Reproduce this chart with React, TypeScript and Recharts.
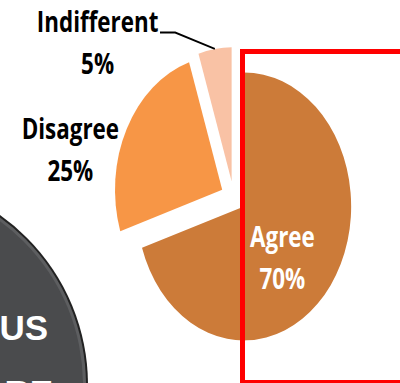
import { PieChart, Pie, Cell } from "recharts";

const categories = ["Agree", "Disagree", "Indifferent"];
const shares = [70, 25, 5];
const sliceColors = ["#CC7B39", "#F79646", "#F9C2A5"];

const data = categories.map((name, i) => ({ name, value: shares[i] }));

// chart is drawn wide and squashed horizontally, like the source picture
const W = 500;
const H = 383;
const SQUASH = 0.8;
const CX = 292;
const CY = 197;
const R = 134;
const EXPLODE = 16;
const FONT = "'Open Sans', sans-serif";

const total = shares.reduce((a, b) => a + b, 0);

function explodeOffset(i: number) {
  const before = shares.slice(0, i).reduce((a, b) => a + b, 0);
  const mid = ((before + shares[i] / 2) / total) * 2 * Math.PI;
  return { dx: EXPLODE * Math.sin(mid), dy: -EXPLODE * Math.cos(mid) };
}

const labelSpots = [
  { x: 353, y: 247, fill: "#fff", leader: false },
  { x: 88, y: 139, fill: "#000", leader: false },
  { x: 122, y: 32.5, fill: "#000", leader: true },
];

const makeLabel = (slice: number) => (props: any) => {
  if (props.index !== slice) return null;
  const spot = labelSpots[slice];
  const rad = Math.PI / 180;
  const ex = props.cx + props.outerRadius * Math.cos(-props.midAngle * rad);
  const ey = props.cy + props.outerRadius * Math.sin(-props.midAngle * rad);
  return (
    <g>
      {spot.leader && (
        <polyline
          points={`${spot.x + 78},${spot.y} ${spot.x + 97},${spot.y} ${ex},${ey}`}
          fill="none"
          stroke="#000"
          strokeWidth={2}
        />
      )}
      <text x={spot.x} y={spot.y} textAnchor="middle" fill={spot.fill} fontFamily={FONT} fontWeight={700} fontSize={28}>
        <tspan x={spot.x}>{props.name}</tspan>
        <tspan x={spot.x} dy={42}>{`${props.value}%`}</tspan>
      </text>
    </g>
  );
};

export default function App() {
  return (
    <div style={{ position: "fixed", left: 0, top: 0, width: 400, height: 383, overflow: "hidden", background: "#fff" }}>
      <div style={{ position: "absolute", left: 0, top: 0, width: W, height: H, transform: `scaleX(${SQUASH})`, transformOrigin: "0 0" }}>
        <PieChart width={W} height={H} margin={{ top: 0, right: 0, bottom: 0, left: 0 }}>
          {categories.map((cat, s) => {
            const { dx, dy } = explodeOffset(s);
            return (
              <Pie
                key={cat}
                data={data}
                dataKey="value"
                nameKey="name"
                cx={CX + dx}
                cy={CY + dy}
                outerRadius={R}
                startAngle={90}
                endAngle={-270}
                label={makeLabel(s)}
                labelLine={false}
                isAnimationActive={false}
              >
                {data.map((d, i) => (
                  <Cell key={d.name} fill={i === s ? sliceColors[i] : "transparent"} stroke="none" />
                ))}
              </Pie>
            );
          })}
        </PieChart>
      </div>
      <svg width={400} height={383} style={{ position: "absolute", left: 0, top: 0 }}>
        <circle cx={-120} cy={385} r={208} fill="#222" />
        <circle cx={-120} cy={385} r={206} fill="#5d5e60" />
        <circle cx={-120} cy={385} r={203} fill="#4a4b4d" />
        <text x={48} y={340} textAnchor="end" fill="#fff" fontFamily="'Liberation Sans', Arial, sans-serif" fontWeight={700} fontSize={35}>
          US
        </text>
        <text x={53} y={405} textAnchor="end" fill="#fff" fontFamily="'Liberation Sans', Arial, sans-serif" fontWeight={700} fontSize={35}>
          RE
        </text>
        <rect x={242.5} y={51.5} width={200} height={331} fill="none" stroke="#FF0000" strokeWidth={5} />
      </svg>
    </div>
  );
}
